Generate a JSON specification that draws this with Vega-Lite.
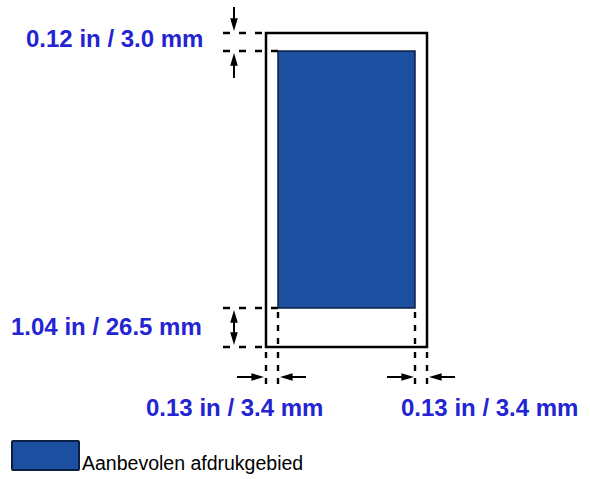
{
  "$schema": "https://vega.github.io/schema/vega-lite/v6.json",
  "width": 590,
  "height": 479,
  "autosize": {"type": "none"},
  "padding": 0,
  "background": "white",
  "config": {"view": {"stroke": null}},
  "datasets": {
    "paper": [{"x": 266, "x2": 427, "y": 33, "y2": 347}],
    "area": [{"x": 278, "x2": 415, "y": 51, "y2": 308}],
    "legendbox": [{"x": 12, "x2": 79, "y": 441, "y2": 470}],
    "hdash": [
      {"x": 223, "x2": 266, "y": 33},
      {"x": 223, "x2": 278, "y": 51},
      {"x": 223, "x2": 278, "y": 308},
      {"x": 223, "x2": 266, "y": 347}
    ],
    "vdash": [
      {"x": 278, "y": 312, "y2": 346},
      {"x": 415, "y": 312, "y2": 346},
      {"x": 266, "y": 352, "y2": 386},
      {"x": 278, "y": 352, "y2": 386},
      {"x": 415, "y": 352, "y2": 386},
      {"x": 427, "y": 352, "y2": 386}
    ],
    "shafts": [
      {"x": 234, "x2": 234, "y": 7, "y2": 22},
      {"x": 234, "x2": 234, "y": 62, "y2": 78},
      {"x": 234, "x2": 234, "y": 318, "y2": 337},
      {"x": 237, "x2": 254, "y": 377, "y2": 377},
      {"x": 290, "x2": 306, "y": 377, "y2": 377},
      {"x": 387, "x2": 404, "y": 377, "y2": 377},
      {"x": 439, "x2": 455, "y": 377, "y2": 377}
    ],
    "heads": [
      {"x": 234, "y": 31, "dir": "down"},
      {"x": 234, "y": 53, "dir": "up"},
      {"x": 234, "y": 310, "dir": "up"},
      {"x": 234, "y": 345, "dir": "down"},
      {"x": 264, "y": 377, "dir": "right"},
      {"x": 280, "y": 377, "dir": "left"},
      {"x": 414, "y": 377, "dir": "right"},
      {"x": 429, "y": 377, "dir": "left"}
    ],
    "labels": [
      {"x": 26, "y": 47, "label": "0.12 in / 3.0 mm"},
      {"x": 11, "y": 335, "label": "1.04 in / 26.5 mm"},
      {"x": 146, "y": 416, "label": "0.13 in / 3.4 mm"},
      {"x": 401, "y": 416, "label": "0.13 in / 3.4 mm"}
    ],
    "legendtext": [{"x": 82, "y": 470, "label": "Aanbevolen afdrukgebied"}]
  },
  "layer": [
    {
      "data": {"name": "paper"},
      "mark": {"type": "rect", "fill": "white", "stroke": "black", "strokeWidth": 2.5},
      "encoding": {
        "x": {"field": "x", "type": "quantitative", "scale": {"domain": [0, 590], "nice": false, "zero": false}, "axis": null},
        "x2": {"field": "x2"},
        "y": {"field": "y", "type": "quantitative", "scale": {"domain": [0, 479], "nice": false, "zero": false, "reverse": true}, "axis": null},
        "y2": {"field": "y2"}
      }
    },
    {
      "data": {"name": "area"},
      "mark": {"type": "rect", "fill": "#1c4f9f", "stroke": "#0b1f45", "strokeWidth": 1.5},
      "encoding": {
        "x": {"field": "x", "type": "quantitative"},
        "x2": {"field": "x2"},
        "y": {"field": "y", "type": "quantitative"},
        "y2": {"field": "y2"}
      }
    },
    {
      "data": {"name": "legendbox"},
      "mark": {"type": "rect", "fill": "#1c4f9f", "stroke": "#0b1f45", "strokeWidth": 2, "cornerRadius": 1},
      "encoding": {
        "x": {"field": "x", "type": "quantitative"},
        "x2": {"field": "x2"},
        "y": {"field": "y", "type": "quantitative"},
        "y2": {"field": "y2"}
      }
    },
    {
      "data": {"name": "hdash"},
      "mark": {"type": "rule", "color": "black", "strokeWidth": 2.4, "strokeDash": [7, 9]},
      "encoding": {
        "x": {"field": "x", "type": "quantitative"},
        "x2": {"field": "x2"},
        "y": {"field": "y", "type": "quantitative"}
      }
    },
    {
      "data": {"name": "vdash"},
      "mark": {"type": "rule", "color": "black", "strokeWidth": 2.4, "strokeDash": [6, 7]},
      "encoding": {
        "x": {"field": "x", "type": "quantitative"},
        "y": {"field": "y", "type": "quantitative"},
        "y2": {"field": "y2"}
      }
    },
    {
      "data": {"name": "shafts"},
      "mark": {"type": "rule", "color": "black", "strokeWidth": 2},
      "encoding": {
        "x": {"field": "x", "type": "quantitative"},
        "x2": {"field": "x2"},
        "y": {"field": "y", "type": "quantitative"},
        "y2": {"field": "y2"}
      }
    },
    {
      "data": {"name": "heads"},
      "mark": {"type": "point", "filled": true, "color": "black", "opacity": 1, "size": 160},
      "encoding": {
        "x": {"field": "x", "type": "quantitative"},
        "y": {"field": "y", "type": "quantitative"},
        "shape": {
          "field": "dir",
          "type": "nominal",
          "legend": null,
          "scale": {
            "domain": ["down", "up", "right", "left"],
            "range": ["M0,0L-0.6,-2L0.6,-2Z", "M0,0L-0.6,2L0.6,2Z", "M0,0L-2,-0.6L-2,0.6Z", "M0,0L2,-0.6L2,0.6Z"]
          }
        }
      }
    },
    {
      "data": {"name": "labels"},
      "mark": {"type": "text", "align": "left", "baseline": "alphabetic", "font": "Liberation Sans, Arial, sans-serif", "fontSize": 24, "fontWeight": "bold", "color": "#2424d2"},
      "encoding": {
        "x": {"field": "x", "type": "quantitative"},
        "y": {"field": "y", "type": "quantitative"},
        "text": {"field": "label"}
      }
    },
    {
      "data": {"name": "legendtext"},
      "mark": {"type": "text", "align": "left", "baseline": "alphabetic", "font": "Liberation Sans, Arial, sans-serif", "fontSize": 19.5, "color": "black"},
      "encoding": {
        "x": {"field": "x", "type": "quantitative"},
        "y": {"field": "y", "type": "quantitative"},
        "text": {"field": "label"}
      }
    }
  ]
}
